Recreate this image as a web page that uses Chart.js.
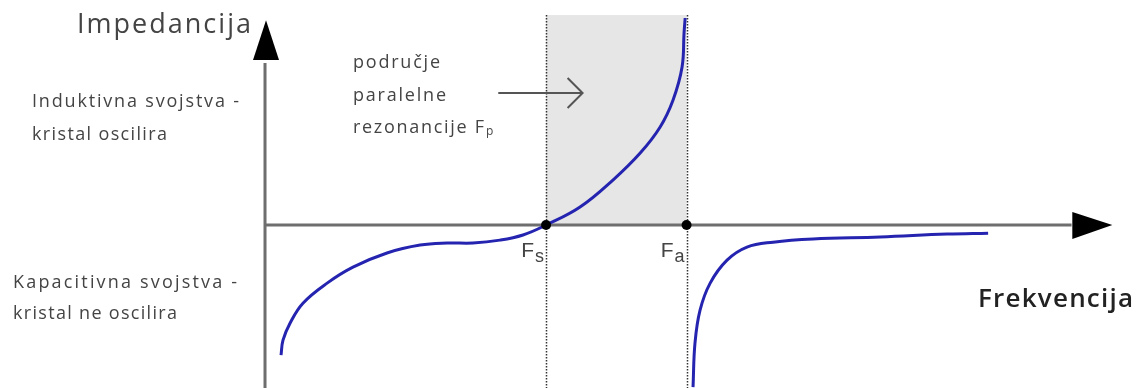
<!DOCTYPE html>
<html>
<head>
<meta charset="utf-8">
<script src="https://cdn.jsdelivr.net/npm/chart.js@4.4.0/dist/chart.umd.min.js"></script>
<style>
  html, body { margin: 0; padding: 0; background: #fff; }
  #wrap { width: 1141px; height: 388px; position: relative; }
</style>
</head>
<body>
<div id="wrap"><canvas id="chart"></canvas></div>
<script>
// frequency axis range (Fs = 10, Fa = 15, arrow tip near 30)
const freqRange = [-9.43, 31.17]
const impRange = [-7.24, 10]

// series resonance branch: capacitive below Fs, inductive between Fs and Fa
const lowFreq = [0.57, 0.64, 0.89, 1.35, 2.21, 3.13, 4.34, 5.52, 6.48, 7.40, 8.36, 9.18, 10.0, 11.21, 12.38, 13.35, 14.06, 14.52, 14.84, 14.91, 14.95]
const lowImp  = [-5.78, -5.11, -4.36, -3.47, -2.58, -1.87, -1.24, -0.89, -0.80, -0.80, -0.67, -0.44, 0.0, 0.80, 2.0, 3.2, 4.36, 5.56, 7.02, 8.53, 9.2]

// branch above Fa
const highFreq = [15.23, 15.30, 15.48, 15.84, 16.44, 17.15, 18.08, 19.50, 21.89, 24.27, 25.73]
const highImp  = [-7.2, -5.24, -3.78, -2.58, -1.56, -0.98, -0.76, -0.62, -0.53, -0.40, -0.36]

const markerFreq = [10, 15]
const markerMain = ['F', 'F']
const markerSub = ['s', 'a']

function toPoints(xs, ys) {
    let pts = []
    for (let i = 0; i < xs.length; i++) pts.push({x: xs[i], y: ys[i]})
    return pts
}

function fitText(ctx, txt, x, y, font, width, color) {
    ctx.save()
    ctx.font = font
    ctx.fillStyle = color
    ctx.textBaseline = 'alphabetic'
    ctx.textAlign = 'left'
    let w = ctx.measureText(txt).width
    if (width) {
        let sp = (width - w) / Math.max(1, txt.length - 1)
        ctx.letterSpacing = sp.toFixed(2) + 'px'
    }
    ctx.fillText(txt, x, y)
    ctx.restore()
}

const diagramPlugin = {
    id: 'diagram',
    beforeDatasetsDraw(chart) {
        const ctx = chart.ctx
        const xs = chart.scales.x, ys = chart.scales.y
        const x0 = xs.getPixelForValue(0), y0 = ys.getPixelForValue(0)
        const fs = xs.getPixelForValue(markerFreq[0]), fa = xs.getPixelForValue(markerFreq[1])
        const top = ys.getPixelForValue(9.33)
        const bottom = chart.height

        ctx.save()
        // shaded parallel resonance region
        ctx.fillStyle = '#e6e6e6'
        ctx.fillRect(fs, top, fa - fs, y0 - top)

        // dotted verticals
        ctx.strokeStyle = '#333'
        ctx.lineWidth = 1.5
        ctx.setLineDash([1.5, 1.5])
        markerFreq.forEach(f => {
            let px = Math.round(xs.getPixelForValue(f)) + 0.5
            ctx.beginPath()
            ctx.moveTo(px, top)
            ctx.lineTo(px, bottom)
            ctx.stroke()
        })
        ctx.setLineDash([])

        // axes
        ctx.strokeStyle = '#6e6e6e'
        ctx.lineWidth = 3
        ctx.beginPath()
        ctx.moveTo(x0, bottom)
        ctx.lineTo(x0, ys.getPixelForValue(7.2))
        ctx.moveTo(x0, y0)
        ctx.lineTo(xs.getPixelForValue(28.7), y0)
        ctx.stroke()

        ctx.fillStyle = '#000'
        ctx.beginPath()
        ctx.moveTo(x0 + 1, ys.getPixelForValue(9.1))
        ctx.lineTo(x0 - 12, ys.getPixelForValue(7.33))
        ctx.lineTo(x0 + 14, ys.getPixelForValue(7.33))
        ctx.closePath()
        ctx.fill()
        let ax = xs.getPixelForValue(30.15)
        ctx.beginPath()
        ctx.moveTo(ax, y0)
        ctx.lineTo(ax - 40, y0 - 13)
        ctx.lineTo(ax - 40, y0 + 14)
        ctx.closePath()
        ctx.fill()

        // pointer arrow
        ctx.strokeStyle = '#555'
        ctx.lineWidth = 2
        let ay = ys.getPixelForValue(5.87)
        let ar = xs.getPixelForValue(11.3)
        ctx.beginPath()
        ctx.moveTo(xs.getPixelForValue(8.3), ay)
        ctx.lineTo(ar, ay)
        ctx.moveTo(ar - 15, ay - 15)
        ctx.lineTo(ar, ay)
        ctx.lineTo(ar - 15, ay + 15)
        ctx.stroke()
        ctx.restore()
    },
    afterDatasetsDraw(chart) {
        const ctx = chart.ctx
        const xs = chart.scales.x, ys = chart.scales.y
        const y0 = ys.getPixelForValue(0)

        ctx.save()
        ctx.fillStyle = '#000'
        markerFreq.forEach(f => {
            ctx.beginPath()
            ctx.arc(xs.getPixelForValue(f), y0, 5, 0, Math.PI * 2)
            ctx.fill()
        })

        // marker labels
        ctx.fillStyle = '#444'
        ctx.textBaseline = 'alphabetic'
        ctx.textAlign = 'left'
        markerFreq.forEach((f, i) => {
            let px = xs.getPixelForValue(f)
            ctx.font = '18px "Liberation Sans"'
            let subW = ctx.measureText(markerSub[i]).width
            ctx.font = '21px "Liberation Sans"'
            let mainW = ctx.measureText(markerMain[i]).width
            let start = px - 3 - subW - mainW
            ctx.fillText(markerMain[i], start, y0 + 32)
            ctx.font = '18px "Liberation Sans"'
            ctx.fillText(markerSub[i], start + mainW + 1, y0 + 37)
        })
        ctx.restore()

        const small = '18px "Open Sans"'
        fitText(ctx, 'Impedancija', 77, 33, '27px "Open Sans"', 174, '#444')
        fitText(ctx, 'Frekvencija', 978, 307, '600 26px "Open Sans"', 155, '#222')
        fitText(ctx, 'Induktivna svojstva -', 32, 107, small, 207, '#444')
        fitText(ctx, 'kristal oscilira', 32, 140, small, 135, '#444')
        fitText(ctx, 'Kapacitivna svojstva -', 13, 288, small, 224, '#444')
        fitText(ctx, 'kristal ne oscilira', 13, 319, small, 164, '#444')
        fitText(ctx, 'područje', 353, 68, small, 87, '#444')
        fitText(ctx, 'paralelne', 353, 101, small, 93, '#444')
        fitText(ctx, 'rezonancije F', 353, 133, small, 131, '#444')
        ctx.save()
        ctx.font = '12px "Open Sans"'
        ctx.fillStyle = '#444'
        ctx.fillText('p', 486, 135)
        ctx.restore()
    }
}

const chart = new Chart(document.getElementById('chart'), {
    type: 'line',
    data: {
        datasets: [
            {
                label: 'Impedancija do Fa',
                data: toPoints(lowFreq, lowImp),
                borderColor: '#2424b0',
                borderWidth: 3,
                pointRadius: 0,
                tension: 0.4,
                fill: false
            },
            {
                label: 'Impedancija iznad Fa',
                data: toPoints(highFreq, highImp),
                borderColor: '#2424b0',
                borderWidth: 3,
                pointRadius: 0,
                tension: 0.4,
                fill: false
            }
        ]
    },
    options: {
        responsive: true,
        maintainAspectRatio: false,
        animation: false,
        layout: { padding: 0 },
        plugins: {
            legend: { display: false },
            tooltip: { enabled: false }
        },
        scales: {
            x: { type: 'linear', display: false, min: freqRange[0], max: freqRange[1] },
            y: { type: 'linear', display: false, min: impRange[0], max: impRange[1] }
        }
    },
    plugins: [diagramPlugin]
})
</script>
</body>
</html>
